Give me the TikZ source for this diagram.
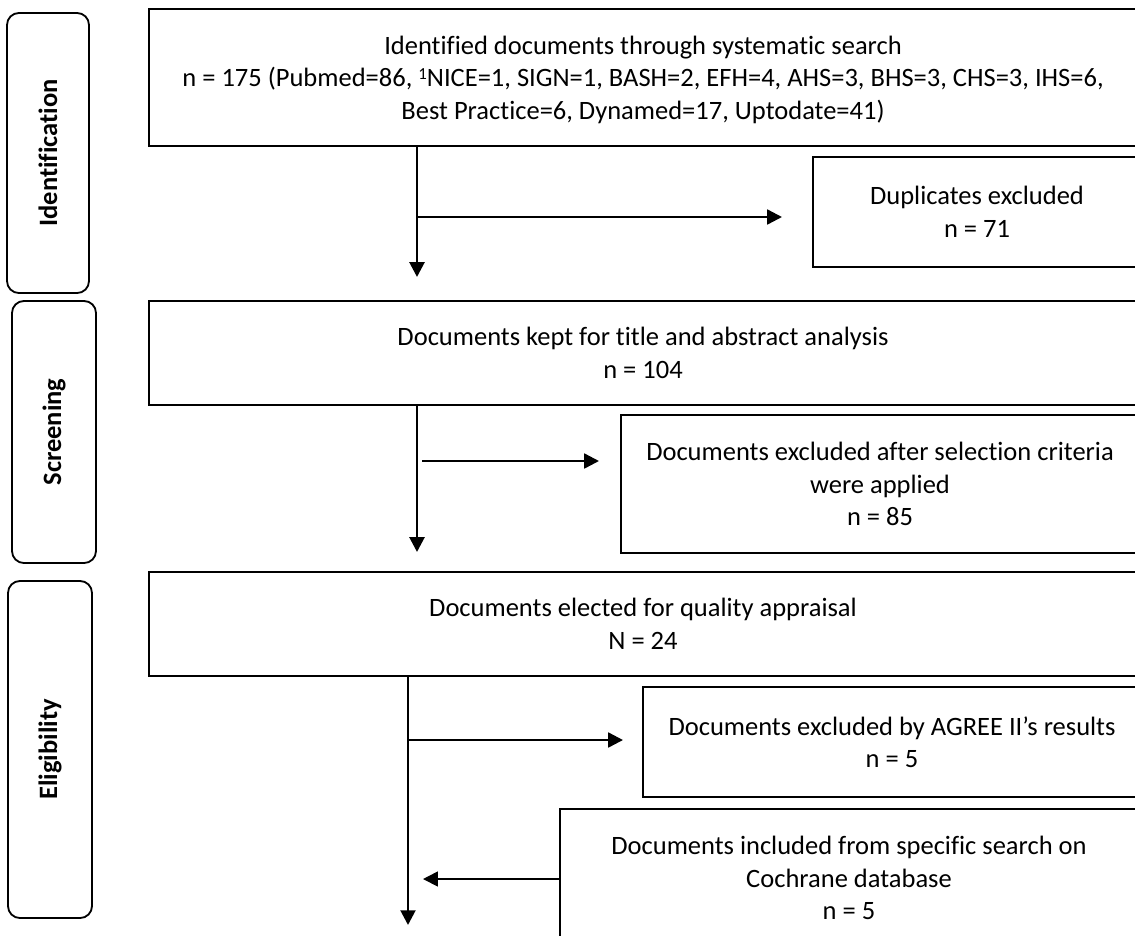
\documentclass[tikz,border=0pt]{standalone}
\usepackage{fontspec}
\setmainfont{Carlito}[Ligatures=NoCommon]
\usetikzlibrary{arrows.meta}

\begin{document}
\begin{tikzpicture}[x=0.025cm,y=-0.025cm,font=\fontsize{18.85}{23.2}\selectfont]
\tikzstyle{mainbox} = [draw,line width=1.7pt,inner sep=0pt,align=center,text depth=0pt]
\tikzstyle{stagebox} = [draw,line width=1.3pt,rounded corners=0.3cm,inner sep=0pt,text depth=0pt,font=\fontsize{18.85}{23.2}\selectfont\bfseries]
\tikzstyle{trunk} = [line width=2pt,-{Triangle[length=10.5pt,width=10.5pt]}]
\tikzstyle{branch} = [line width=1.7pt,-{Triangle[length=10.5pt,width=10.5pt]}]
\tikzstyle{thinarr} = [line width=1.2pt,-{Triangle[length=10.5pt,width=10.5pt]}]
  \useasboundingbox (0,0) rectangle (1135,935);
  %stages
  \node[stagebox,minimum width=2.05cm,minimum height=7cm] (ident) at (48,153) {\rotatebox{90}{Identification}};
  \node[stagebox,minimum width=2.1cm,minimum height=6.55cm] (screen) at (54,432) {\rotatebox{90}{Screening}};
  \node[stagebox,minimum width=2.1cm,minimum height=8.425cm] (elig) at (50,749.5) {\rotatebox{90}{Eligibility}};
  %main column
  \node[mainbox,minimum width=24.7cm,minimum height=3.425cm] (found) at (643,77.5)
    {Identified documents through systematic search\\
     n = 175 (Pubmed=86, {\fontsize{12}{12}\selectfont\raisebox{5pt}{1}}NICE=1, SIGN=1, BASH=2, EFH=4, AHS=3, BHS=3, CHS=3, IHS=6,\\
     Best Practice=6, Dynamed=17, Uptodate=41)};
  \node[mainbox,minimum width=24.7cm,minimum height=2.6cm] (kept) at (643,353)
    {Documents kept for title and abstract analysis\\ n = 104};
  \node[mainbox,minimum width=24.7cm,minimum height=2.6cm] (elected) at (643,624)
    {Documents elected for quality appraisal\\ N = 24};
  %side boxes
  \node[mainbox,minimum width=8.2cm,minimum height=2.75cm] (dupl) at (977,212)
    {Duplicates excluded\\ n = 71};
  \node[mainbox,minimum width=12.95cm,minimum height=3.45cm] (crit) at (880,484)
    {Documents excluded after selection criteria\\ were applied\\ n = 85};
  \node[mainbox,minimum width=12.45cm,minimum height=2.75cm] (agree) at (892,742)
    {Documents excluded by AGREE II’s results\\ n = 5};
  \node[mainbox,minimum width=14.45cm,minimum height=3.45cm] (cochr) at (849,878)
    {Documents included from specific search on\\ Cochrane database\\ n = 5};
  %arrow ends
  \coordinate (end1) at (417,277);
  \coordinate (fork1) at (417,217);
  \coordinate (tip1) at (782,217);
  \coordinate (end2) at (417,552);
  \coordinate (fork2) at (422,461);
  \coordinate (tip2) at (599,461);
  \coordinate (end3) at (408,925);
  \coordinate (fork3) at (408,740);
  \coordinate (tip3) at (623,740);
  \coordinate (tip4) at (423,879);
  %arrows
  \draw[trunk] (found.south -| end1) -- (end1);
  \draw[branch] (fork1) -- (tip1);
  \draw[trunk] (kept.south -| end2) -- (end2);
  \draw[branch] (fork2) -- (tip2);
  \draw[trunk] (elected.south -| end3) -- (end3);
  \draw[branch] (fork3) -- (tip3);
  \draw[thinarr] (cochr.west |- tip4) -- (tip4);
\end{tikzpicture}
\end{document}
